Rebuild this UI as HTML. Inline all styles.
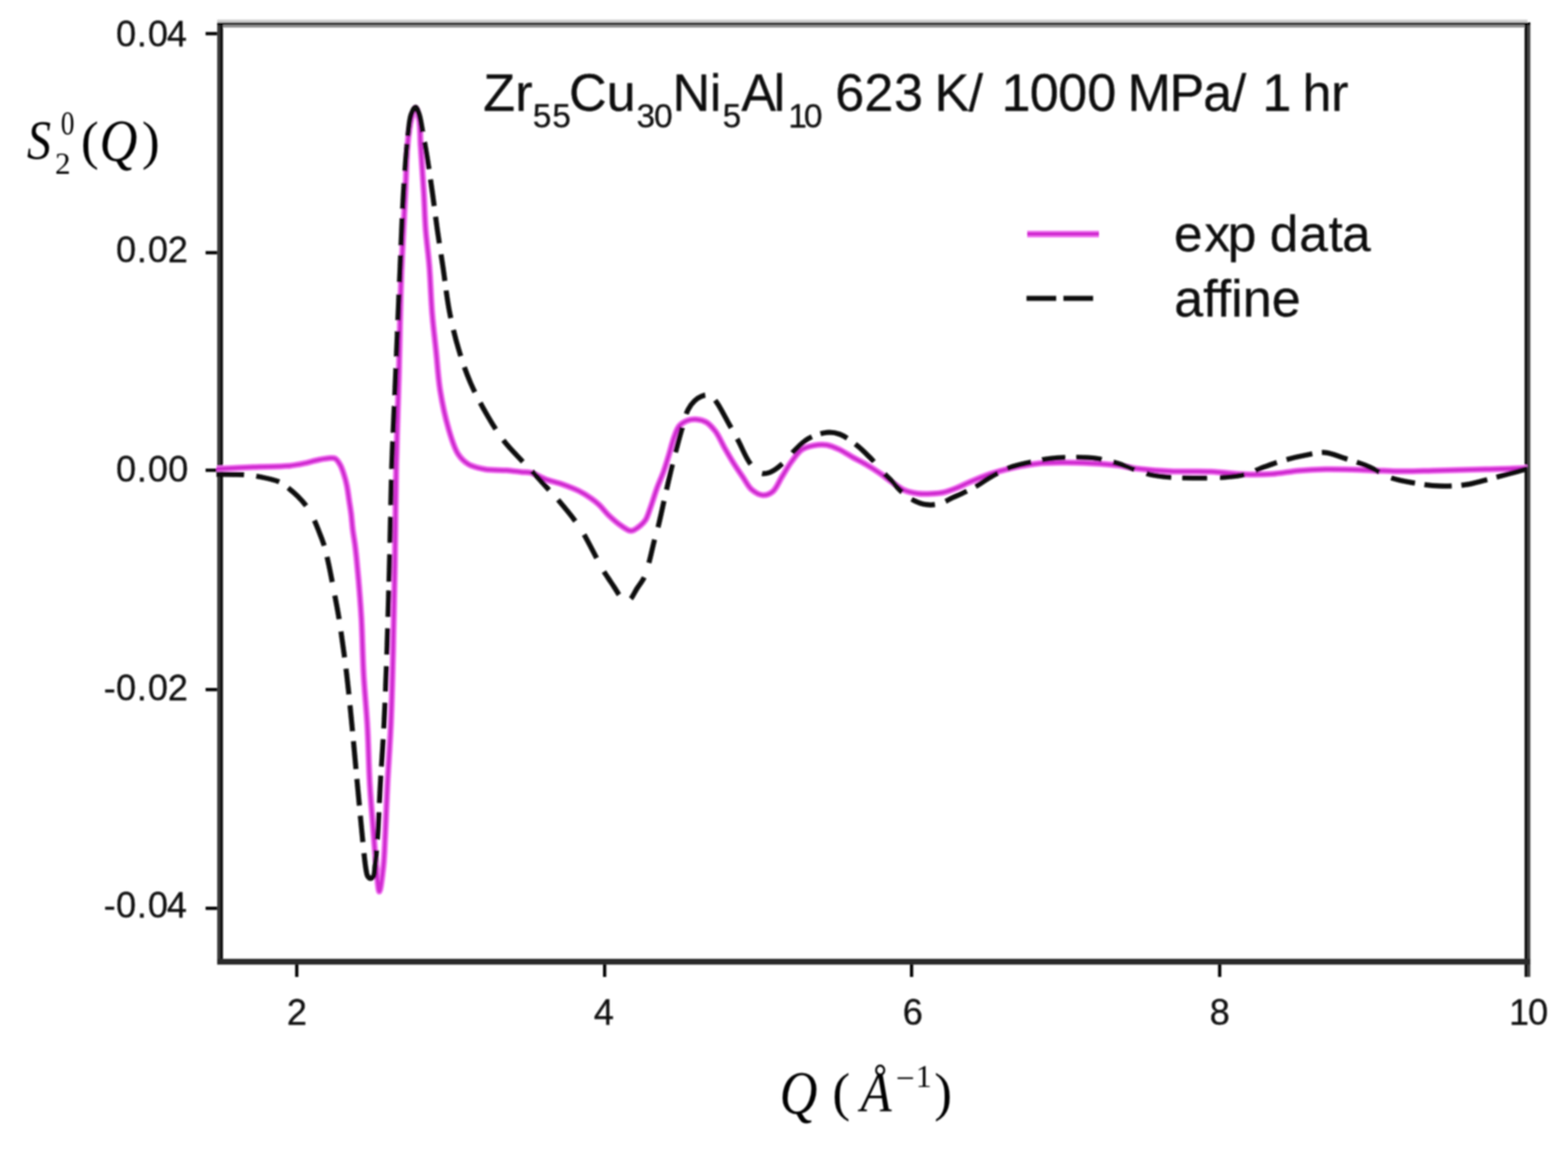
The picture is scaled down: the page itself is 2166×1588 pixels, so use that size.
<!DOCTYPE html>
<html><head><meta charset="utf-8"><title>S2(Q) plot</title>
<style>html,body{margin:0;padding:0;background:#fff;overflow:hidden;}svg{display:block;}.n{font-family:"Liberation Sans",Arial,sans-serif;fill:#0a0a0a;stroke:#0a0a0a;stroke-width:0.3px;}.m{font-family:"Liberation Serif","Times New Roman",serif;font-style:italic;fill:#000;}</style></head><body>
<svg width="2166" height="1588" viewBox="0 0 2166 1588">
<rect x="0" y="0" width="2166" height="1588" fill="#fff"/>
<defs><filter id="soft" x="0" y="0" width="2166" height="1588" filterUnits="userSpaceOnUse"><feGaussianBlur stdDeviation="1.20"/></filter></defs>
<g filter="url(#soft)">
<g fill="none" stroke-linecap="butt">
<rect x="300" y="31" width="4" height="1301" fill="#3a3a3a"/>
<rect x="304" y="31" width="4" height="1301" fill="#111"/>
<rect x="2106" y="31" width="4" height="1318" fill="#111"/>
<rect x="2110" y="31" width="4" height="1318" fill="#444"/>
<rect x="300" y="27" width="1810" height="4" fill="#d0d0d0"/>
<rect x="300" y="31" width="1814" height="3.5" fill="#050505"/>
<rect x="308" y="34.5" width="1798" height="3.5" fill="#8c8c8c"/>
<rect x="300" y="1324" width="1814" height="8" fill="#2a2a2a"/>
</g>
<rect x="284" y="44.2" width="16" height="4.5" fill="#000"/>
<rect x="284" y="346.7" width="16" height="4.5" fill="#000"/>
<rect x="284" y="647.1" width="16" height="4.5" fill="#000"/>
<rect x="284" y="950.0" width="16" height="4.5" fill="#000"/>
<rect x="284" y="1252.0" width="16" height="4.5" fill="#000"/>
<rect x="407.7" y="1332" width="4.5" height="17" fill="#000"/>
<rect x="833.0" y="1332" width="4.5" height="17" fill="#000"/>
<rect x="1257.0" y="1332" width="4.5" height="17" fill="#000"/>
<rect x="1682.6" y="1332" width="4.5" height="17" fill="#000"/>
<text class="n" font-size="50" y="63.5" x="160.3 188.9 204.2 230.4">0.04</text>
<text class="n" font-size="50" y="362.3" x="160.3 188.9 204.2 231.7">0.02</text>
<text class="n" font-size="50" y="665.2" x="160.3 188.9 204.2 232.2">0.00</text>
<text class="n" font-size="50" y="967.2" x="143.3 160.3 188.9 204.2 231.7">-0.02</text>
<text class="n" font-size="50" y="1266.5" x="143.3 160.3 188.9 204.2 230.4">-0.04</text>
<text class="n" font-size="50" y="1414.5" x="396.3">2</text>
<text class="n" font-size="50" y="1414.5" x="820.2">4</text>
<text class="n" font-size="50" y="1414.5" x="1246.9">6</text>
<text class="n" font-size="50" y="1414.5" x="1671.1">8</text>
<text class="n" font-size="50" y="1414.5" x="2084.5 2110.8">10</text>
<defs><clipPath id="cp"><rect x="299" y="38" width="1811" height="1286"/></clipPath></defs>
<g clip-path="url(#cp)" fill="none" stroke-linejoin="round">
<path d="M299.0,647.5 C299.0,647.5 301.5,647.4 304.0,647.3 C311.6,646.9 334.3,645.6 350.0,644.9 C366.3,644.2 387.1,644.5 400.0,643.2 C408.2,642.4 413.4,641.3 420.0,639.9 C426.7,638.5 433.6,636.2 440.0,635.0 C445.9,633.9 452.8,632.7 457.0,632.6 C459.5,632.6 461.1,632.3 463.0,633.3 C465.6,634.7 468.1,638.8 470.1,642.2 C472.3,646.0 473.6,650.7 475.1,655.2 C476.7,660.0 478.0,664.9 479.1,670.4 C480.4,676.6 481.2,683.8 482.2,690.5 C483.2,697.2 484.4,703.9 485.2,710.6 C486.0,717.3 486.4,724.1 487.2,730.8 C488.0,737.5 489.3,744.2 490.2,750.9 C491.1,757.6 491.7,763.2 492.5,771.0 C493.6,781.9 494.9,796.5 496.0,810.0 C497.2,824.5 498.3,838.0 499.3,855.0 C500.5,877.0 500.9,906.0 502.3,931.0 C503.7,955.3 506.1,978.4 507.5,1003.0 C509.0,1028.7 509.3,1057.0 510.8,1082.0 C512.1,1104.7 514.1,1126.8 515.7,1147.0 C517.1,1164.6 518.3,1181.5 519.8,1196.5 C521.1,1209.0 522.4,1231.0 524.0,1231.0 C525.6,1231.0 528.2,1208.9 529.6,1196.5 C531.2,1182.2 531.4,1167.0 532.3,1150.0 C533.3,1129.5 534.1,1105.7 535.3,1082.0 C536.6,1055.9 538.7,1028.7 540.0,1000.0 C541.4,968.3 542.1,934.9 543.0,900.0 C544.0,861.8 544.8,821.2 545.5,780.0 C546.2,736.2 546.4,688.6 547.3,644.5 C548.2,602.4 549.8,563.5 550.9,521.0 C552.1,475.6 552.8,424.5 554.4,380.0 C555.9,340.0 558.4,298.8 560.0,266.0 C561.2,241.0 561.3,218.5 563.0,200.0 C564.3,186.5 565.6,174.3 568.0,165.0 C569.7,158.5 572.2,148.9 574.0,149.0 C575.8,149.1 577.8,158.5 579.0,165.0 C580.7,174.3 580.2,186.5 581.0,200.0 C582.1,218.5 584.2,245.4 585.4,266.0 C586.5,284.1 586.7,300.0 588.0,317.0 C589.3,334.0 591.7,350.0 593.1,368.0 C594.7,388.3 595.3,412.5 597.0,433.0 C598.5,451.6 600.7,468.3 602.5,486.0 C604.3,503.7 605.2,521.4 608.0,539.0 C610.9,556.7 615.0,576.3 619.6,592.0 C623.5,605.0 627.2,618.4 632.8,627.0 C636.9,633.3 641.2,637.5 647.0,641.0 C653.4,644.8 661.6,646.6 669.9,648.0 C679.2,649.6 691.0,648.8 700.0,649.5 C707.4,650.1 714.0,651.1 720.0,651.7 C725.0,652.2 728.7,651.6 733.6,652.9 C739.8,654.5 746.9,659.3 754.0,661.9 C761.3,664.6 769.2,666.1 776.7,668.7 C784.3,671.4 792.4,674.4 799.3,677.8 C805.5,680.9 811.3,684.5 816.3,688.0 C820.6,691.0 823.9,693.6 827.6,697.1 C831.8,701.0 835.3,706.2 840.0,710.7 C845.4,715.9 852.6,722.3 858.5,726.2 C863.2,729.3 867.7,733.1 872.0,733.0 C876.1,732.9 880.6,728.9 884.0,726.2 C887.1,723.8 889.5,721.5 891.8,717.9 C894.7,713.3 896.4,706.7 898.8,700.2 C901.7,692.3 904.5,682.2 907.6,673.8 C910.4,666.1 913.8,659.1 916.5,651.7 C919.1,644.4 921.1,637.4 923.5,629.7 C926.1,621.3 928.5,610.7 931.4,603.2 C933.6,597.3 935.1,591.8 938.5,588.0 C941.6,584.5 946.2,582.0 950.4,580.5 C954.4,579.1 958.8,578.8 963.0,579.2 C967.2,579.6 971.7,580.7 975.6,583.0 C980.2,585.7 984.3,590.5 988.2,595.6 C992.9,601.8 996.6,610.8 1000.8,618.2 C1005.0,625.5 1009.1,632.7 1013.4,639.6 C1017.5,646.2 1021.8,652.3 1026.0,658.5 C1030.1,664.5 1033.5,671.9 1038.5,676.2 C1042.9,680.0 1048.7,683.4 1053.7,683.7 C1058.4,684.0 1063.5,682.0 1067.5,678.7 C1072.6,674.5 1075.9,665.2 1080.1,658.5 C1084.3,651.8 1088.1,644.7 1092.7,638.4 C1097.3,632.2 1102.1,624.7 1107.8,620.8 C1112.7,617.5 1118.4,616.3 1124.0,615.2 C1129.8,614.1 1136.1,613.6 1142.0,614.5 C1148.1,615.4 1154.1,618.3 1160.0,621.0 C1166.1,623.9 1172.0,628.1 1178.0,631.5 C1184.0,634.8 1190.1,637.7 1196.0,641.2 C1202.1,644.7 1208.1,648.5 1214.0,652.5 C1220.1,656.6 1225.9,661.4 1232.0,665.6 C1237.9,669.7 1243.8,674.5 1250.0,677.2 C1255.8,679.7 1262.0,680.7 1268.0,681.5 C1274.0,682.3 1280.0,682.1 1286.0,681.8 C1292.0,681.5 1298.1,681.1 1304.0,679.8 C1310.1,678.4 1316.1,676.0 1322.0,673.6 C1328.1,671.2 1333.3,668.3 1340.0,665.5 C1348.2,662.0 1358.4,657.7 1367.7,654.6 C1376.9,651.5 1385.4,649.1 1395.4,646.8 C1406.8,644.2 1419.9,641.5 1432.3,640.2 C1444.6,638.9 1457.0,638.9 1469.3,638.8 C1481.6,638.7 1493.9,639.1 1506.2,639.7 C1518.5,640.3 1531.7,641.1 1543.1,642.5 C1553.0,643.7 1560.4,645.8 1570.8,647.1 C1584.2,648.7 1600.9,650.1 1617.0,650.8 C1634.6,651.6 1654.6,650.5 1672.4,651.3 C1688.9,652.0 1705.1,654.5 1720.0,655.0 C1733.1,655.4 1744.7,655.3 1757.0,654.5 C1769.3,653.7 1781.6,651.0 1793.9,649.9 C1806.2,648.8 1818.5,648.2 1830.8,648.0 C1843.1,647.8 1855.4,648.1 1867.7,648.4 C1880.0,648.7 1892.4,649.5 1904.7,649.9 C1917.0,650.3 1929.3,650.8 1941.6,650.8 C1953.9,650.8 1966.2,650.2 1978.5,649.9 C1990.8,649.6 2003.2,649.2 2015.5,648.9 C2027.8,648.6 2040.1,648.3 2052.4,648.0 C2064.7,647.7 2078.8,647.5 2089.3,647.1 C2097.2,646.8 2110.0,646.2 2110.0,646.2" stroke="#f47cf4" stroke-width="9"/>
<path d="M299.0,647.5 C299.0,647.5 301.5,647.4 304.0,647.3 C311.6,646.9 334.3,645.6 350.0,644.9 C366.3,644.2 387.1,644.5 400.0,643.2 C408.2,642.4 413.4,641.3 420.0,639.9 C426.7,638.5 433.6,636.2 440.0,635.0 C445.9,633.9 452.8,632.7 457.0,632.6 C459.5,632.6 461.1,632.3 463.0,633.3 C465.6,634.7 468.1,638.8 470.1,642.2 C472.3,646.0 473.6,650.7 475.1,655.2 C476.7,660.0 478.0,664.9 479.1,670.4 C480.4,676.6 481.2,683.8 482.2,690.5 C483.2,697.2 484.4,703.9 485.2,710.6 C486.0,717.3 486.4,724.1 487.2,730.8 C488.0,737.5 489.3,744.2 490.2,750.9 C491.1,757.6 491.7,763.2 492.5,771.0 C493.6,781.9 494.9,796.5 496.0,810.0 C497.2,824.5 498.3,838.0 499.3,855.0 C500.5,877.0 500.9,906.0 502.3,931.0 C503.7,955.3 506.1,978.4 507.5,1003.0 C509.0,1028.7 509.3,1057.0 510.8,1082.0 C512.1,1104.7 514.1,1126.8 515.7,1147.0 C517.1,1164.6 518.3,1181.5 519.8,1196.5 C521.1,1209.0 522.4,1231.0 524.0,1231.0 C525.6,1231.0 528.2,1208.9 529.6,1196.5 C531.2,1182.2 531.4,1167.0 532.3,1150.0 C533.3,1129.5 534.1,1105.7 535.3,1082.0 C536.6,1055.9 538.7,1028.7 540.0,1000.0 C541.4,968.3 542.1,934.9 543.0,900.0 C544.0,861.8 544.8,821.2 545.5,780.0 C546.2,736.2 546.4,688.6 547.3,644.5 C548.2,602.4 549.8,563.5 550.9,521.0 C552.1,475.6 552.8,424.5 554.4,380.0 C555.9,340.0 558.4,298.8 560.0,266.0 C561.2,241.0 561.3,218.5 563.0,200.0 C564.3,186.5 565.6,174.3 568.0,165.0 C569.7,158.5 572.2,148.9 574.0,149.0 C575.8,149.1 577.8,158.5 579.0,165.0 C580.7,174.3 580.2,186.5 581.0,200.0 C582.1,218.5 584.2,245.4 585.4,266.0 C586.5,284.1 586.7,300.0 588.0,317.0 C589.3,334.0 591.7,350.0 593.1,368.0 C594.7,388.3 595.3,412.5 597.0,433.0 C598.5,451.6 600.7,468.3 602.5,486.0 C604.3,503.7 605.2,521.4 608.0,539.0 C610.9,556.7 615.0,576.3 619.6,592.0 C623.5,605.0 627.2,618.4 632.8,627.0 C636.9,633.3 641.2,637.5 647.0,641.0 C653.4,644.8 661.6,646.6 669.9,648.0 C679.2,649.6 691.0,648.8 700.0,649.5 C707.4,650.1 714.0,651.1 720.0,651.7 C725.0,652.2 728.7,651.6 733.6,652.9 C739.8,654.5 746.9,659.3 754.0,661.9 C761.3,664.6 769.2,666.1 776.7,668.7 C784.3,671.4 792.4,674.4 799.3,677.8 C805.5,680.9 811.3,684.5 816.3,688.0 C820.6,691.0 823.9,693.6 827.6,697.1 C831.8,701.0 835.3,706.2 840.0,710.7 C845.4,715.9 852.6,722.3 858.5,726.2 C863.2,729.3 867.7,733.1 872.0,733.0 C876.1,732.9 880.6,728.9 884.0,726.2 C887.1,723.8 889.5,721.5 891.8,717.9 C894.7,713.3 896.4,706.7 898.8,700.2 C901.7,692.3 904.5,682.2 907.6,673.8 C910.4,666.1 913.8,659.1 916.5,651.7 C919.1,644.4 921.1,637.4 923.5,629.7 C926.1,621.3 928.5,610.7 931.4,603.2 C933.6,597.3 935.1,591.8 938.5,588.0 C941.6,584.5 946.2,582.0 950.4,580.5 C954.4,579.1 958.8,578.8 963.0,579.2 C967.2,579.6 971.7,580.7 975.6,583.0 C980.2,585.7 984.3,590.5 988.2,595.6 C992.9,601.8 996.6,610.8 1000.8,618.2 C1005.0,625.5 1009.1,632.7 1013.4,639.6 C1017.5,646.2 1021.8,652.3 1026.0,658.5 C1030.1,664.5 1033.5,671.9 1038.5,676.2 C1042.9,680.0 1048.7,683.4 1053.7,683.7 C1058.4,684.0 1063.5,682.0 1067.5,678.7 C1072.6,674.5 1075.9,665.2 1080.1,658.5 C1084.3,651.8 1088.1,644.7 1092.7,638.4 C1097.3,632.2 1102.1,624.7 1107.8,620.8 C1112.7,617.5 1118.4,616.3 1124.0,615.2 C1129.8,614.1 1136.1,613.6 1142.0,614.5 C1148.1,615.4 1154.1,618.3 1160.0,621.0 C1166.1,623.9 1172.0,628.1 1178.0,631.5 C1184.0,634.8 1190.1,637.7 1196.0,641.2 C1202.1,644.7 1208.1,648.5 1214.0,652.5 C1220.1,656.6 1225.9,661.4 1232.0,665.6 C1237.9,669.7 1243.8,674.5 1250.0,677.2 C1255.8,679.7 1262.0,680.7 1268.0,681.5 C1274.0,682.3 1280.0,682.1 1286.0,681.8 C1292.0,681.5 1298.1,681.1 1304.0,679.8 C1310.1,678.4 1316.1,676.0 1322.0,673.6 C1328.1,671.2 1333.3,668.3 1340.0,665.5 C1348.2,662.0 1358.4,657.7 1367.7,654.6 C1376.9,651.5 1385.4,649.1 1395.4,646.8 C1406.8,644.2 1419.9,641.5 1432.3,640.2 C1444.6,638.9 1457.0,638.9 1469.3,638.8 C1481.6,638.7 1493.9,639.1 1506.2,639.7 C1518.5,640.3 1531.7,641.1 1543.1,642.5 C1553.0,643.7 1560.4,645.8 1570.8,647.1 C1584.2,648.7 1600.9,650.1 1617.0,650.8 C1634.6,651.6 1654.6,650.5 1672.4,651.3 C1688.9,652.0 1705.1,654.5 1720.0,655.0 C1733.1,655.4 1744.7,655.3 1757.0,654.5 C1769.3,653.7 1781.6,651.0 1793.9,649.9 C1806.2,648.8 1818.5,648.2 1830.8,648.0 C1843.1,647.8 1855.4,648.1 1867.7,648.4 C1880.0,648.7 1892.4,649.5 1904.7,649.9 C1917.0,650.3 1929.3,650.8 1941.6,650.8 C1953.9,650.8 1966.2,650.2 1978.5,649.9 C1990.8,649.6 2003.2,649.2 2015.5,648.9 C2027.8,648.6 2040.1,648.3 2052.4,648.0 C2064.7,647.7 2078.8,647.5 2089.3,647.1 C2097.2,646.8 2110.0,646.2 2110.0,646.2" stroke="#d02cd0" stroke-width="5"/>
<path d="M299.0,654.9 C299.0,654.9 301.6,654.9 304.0,654.9 C310.3,655.0 328.9,654.9 338.0,655.5 C344.1,655.9 347.2,656.3 353.2,657.4 C362.2,659.1 378.7,662.1 386.5,665.7 C391.4,667.9 393.6,670.3 397.3,673.2 C401.7,676.6 406.6,680.7 411.0,685.0 C415.6,689.6 420.2,694.6 424.0,700.0 C427.9,705.5 431.1,712.0 434.0,718.0 C436.7,723.7 438.7,729.2 441.0,735.0 C443.4,741.1 445.9,747.2 448.0,754.0 C450.3,761.7 452.1,770.6 454.0,779.0 C455.9,787.6 457.5,796.4 459.2,805.0 C460.8,813.4 462.4,821.6 464.0,830.0 C465.6,838.6 466.9,845.1 468.6,856.0 C471.5,874.5 475.9,906.2 478.9,931.0 C481.8,955.2 483.9,978.4 486.3,1003.0 C488.8,1028.7 491.2,1056.7 493.6,1082.0 C495.8,1105.5 498.2,1131.9 500.0,1150.0 C501.2,1162.0 502.0,1171.0 503.0,1180.0 C503.8,1187.3 504.5,1194.5 505.5,1200.0 C506.2,1203.9 506.5,1207.8 508.0,1210.0 C509.0,1211.5 510.7,1213.0 512.0,1213.0 C513.3,1213.0 515.0,1211.6 516.0,1210.0 C517.6,1207.3 517.4,1201.9 518.0,1197.0 C518.8,1190.6 519.4,1182.6 520.0,1175.0 C520.7,1166.9 521.3,1160.4 522.0,1150.0 C523.1,1132.9 524.2,1105.7 525.5,1082.0 C527.0,1055.9 529.1,1028.7 530.5,1000.0 C532.1,968.3 533.3,934.9 534.5,900.0 C535.8,861.8 536.9,820.8 538.0,780.0 C539.1,737.5 540.1,680.9 541.0,650.0 C541.5,632.8 541.9,626.0 542.5,610.0 C543.5,586.2 545.0,554.3 546.4,521.0 C548.2,478.3 550.5,420.1 552.5,375.0 C554.2,336.0 555.3,300.1 557.4,266.0 C559.3,235.9 561.8,200.4 564.2,181.0 C565.4,170.9 565.8,163.9 568.0,158.0 C569.5,153.8 572.2,147.9 574.0,148.0 C575.8,148.1 577.6,153.9 579.0,158.0 C581.1,164.0 582.1,172.6 583.7,181.0 C585.6,191.2 587.7,202.5 589.7,215.0 C592.2,230.3 594.9,249.0 597.3,266.0 C599.7,283.0 601.7,300.0 604.1,317.0 C606.5,334.0 609.1,350.0 611.8,368.0 C614.8,388.3 617.3,412.5 621.4,432.9 C625.1,451.5 629.5,469.1 634.6,485.8 C639.3,501.3 644.2,515.4 650.5,529.9 C657.0,544.8 665.4,560.2 673.4,573.9 C680.7,586.5 688.1,598.5 696.3,609.2 C704.0,619.1 713.9,628.7 720.8,636.1 C725.7,641.4 728.7,644.2 733.6,649.5 C740.6,656.9 751.8,669.4 758.5,676.7 C763.0,681.6 765.5,684.0 769.9,689.1 C776.7,697.0 788.3,710.9 794.8,719.7 C799.5,726.1 802.1,729.9 806.1,736.7 C811.6,746.0 819.2,761.3 824.2,770.7 C827.7,777.3 830.4,782.8 833.3,787.7 C835.6,791.6 837.7,794.4 840.0,798.0 C842.5,801.9 845.4,806.0 848.0,810.0 C850.5,813.8 852.9,818.1 855.1,821.3 C856.8,823.7 858.2,826.0 860.0,827.5 C861.5,828.7 863.3,829.9 865.0,830.0 C866.7,830.1 868.4,829.5 870.2,828.1 C873.4,825.5 876.7,817.7 880.0,812.5 C883.3,807.3 887.3,802.6 889.9,797.1 C892.6,791.5 893.9,786.0 895.9,779.0 C898.6,769.5 901.7,754.4 904.2,745.0 C906.0,738.3 907.2,735.0 909.0,728.0 C911.8,717.1 915.3,700.1 918.5,686.0 C921.8,671.7 925.2,656.4 928.5,643.0 C931.4,631.3 934.6,619.0 937.0,610.0 C938.7,603.7 939.7,600.1 941.5,594.0 C943.9,585.9 946.7,573.0 950.4,565.8 C953.1,560.6 956.1,556.7 959.5,553.5 C962.4,550.8 965.8,548.6 969.0,547.3 C971.7,546.2 974.4,545.5 977.0,545.8 C979.6,546.1 982.3,547.3 984.5,549.0 C987.0,550.9 988.5,553.4 991.0,557.0 C995.4,563.5 1002.0,576.5 1007.0,585.5 C1011.5,593.5 1015.2,600.0 1019.6,608.2 C1024.8,617.8 1029.9,631.6 1036.0,639.6 C1040.7,645.7 1045.9,651.8 1051.1,653.5 C1055.2,654.9 1059.5,653.7 1063.7,652.2 C1068.7,650.4 1073.9,646.4 1078.8,642.2 C1084.5,637.4 1089.3,630.3 1095.2,624.5 C1101.6,618.2 1108.2,610.6 1116.0,606.0 C1123.8,601.5 1134.0,598.0 1142.0,597.2 C1148.5,596.6 1153.8,597.3 1160.0,599.6 C1167.7,602.5 1176.8,609.6 1184.0,615.2 C1190.7,620.4 1196.1,626.0 1202.0,632.0 C1208.2,638.3 1214.5,646.6 1220.0,652.4 C1224.3,657.0 1228.0,660.3 1232.0,664.4 C1236.1,668.6 1239.4,673.4 1244.0,677.6 C1249.2,682.3 1255.7,687.6 1262.0,690.8 C1267.8,693.8 1273.9,696.0 1280.0,696.8 C1285.9,697.6 1292.1,697.1 1298.0,695.6 C1304.2,694.0 1310.0,690.0 1316.0,687.2 C1322.0,684.4 1328.0,681.8 1334.0,678.8 C1340.0,675.8 1346.3,672.6 1352.0,669.2 C1357.5,666.0 1361.6,662.5 1367.7,659.1 C1375.5,654.7 1386.0,649.0 1395.4,645.5 C1404.5,642.1 1413.8,640.4 1423.1,638.3 C1432.3,636.3 1440.9,634.4 1450.8,633.2 C1462.2,631.9 1476.3,631.3 1487.7,631.4 C1497.6,631.5 1506.2,631.8 1515.4,633.2 C1524.7,634.6 1534.9,637.3 1543.1,639.7 C1549.9,641.7 1554.8,643.9 1561.6,646.2 C1569.9,649.0 1580.0,653.2 1589.3,655.4 C1598.4,657.5 1607.1,658.3 1617.0,659.1 C1628.4,660.0 1641.6,660.0 1653.9,660.0 C1666.2,660.0 1679.4,660.0 1690.9,659.1 C1700.9,658.3 1709.7,657.8 1719.0,655.4 C1728.7,652.9 1738.2,647.7 1747.7,644.3 C1757.0,641.0 1766.1,637.7 1775.4,635.1 C1784.6,632.5 1793.8,630.3 1803.1,628.6 C1812.3,626.9 1821.6,624.2 1830.8,624.9 C1840.1,625.6 1849.3,630.3 1858.5,633.2 C1867.8,636.1 1877.9,639.2 1886.2,642.5 C1893.2,645.3 1898.8,648.5 1905.0,651.5 C1911.1,654.4 1916.3,657.8 1923.1,660.2 C1931.2,663.0 1940.9,664.8 1950.8,666.5 C1962.2,668.5 1975.5,670.6 1987.8,671.1 C2000.1,671.6 2013.3,670.9 2024.7,669.3 C2034.7,667.9 2043.2,665.1 2052.4,662.8 C2061.7,660.5 2071.2,657.8 2080.1,655.4 C2088.4,653.2 2098.8,650.5 2104.1,648.9 C2106.7,648.1 2110.0,647.0 2110.0,647.0" stroke="#0a0a0a" stroke-width="7" stroke-dasharray="0.0 0.0 38.0 17.3 32.4 15.2 35.0 23.3 37.4 16.0 35.4 19.0 33.3 17.0 36.2 15.5 35.9 15.2 36.1 13.9 38.1 13.8 37.1 13.8 36.8 15.3 79.0 14.9 37.8 12.8 37.9 12.7 37.8 14.7 35.8 15.2 35.2 15.8 36.3 15.9 36.4 12.2 37.9 15.8 35.8 15.9 35.4 14.7 38.4 12.0 36.9 14.7 37.5 16.0 35.2 14.8 36.0 16.6 37.4 13.3 38.0 12.6 36.1 16.2 37.9 10.7 78.5 14.0 38.0 14.3 37.1 14.9 37.2 15.6 36.9 13.2 38.6 16.8 37.5 16.1 37.6 16.3 42.3 18.5 39.9 18.5 34.9 18.8 37.5 22.4 36.5 21.3 38.1 21.3 34.8 21.1 33.0 17.6 37.2 16.1 35.8 17.1 35.9 19.2 38.5 16.2 43.7 17.7 39.5 20.7 32.3 20.2 35.3 12.5 38.9 13.5 35.7 22.2 35.4 16.0 33.7 15.5 32.6 13.6 36.0 14.3 34.3 15.4 32.2 15.1 35.5 16.1 31.7 16.9 34.9 15.2 34.3 17.6 34.2 16.2 31.6 14.1 36.4 13.3 36.8 13.5 34.2 18.2 33.8 13.1 37.7 13.2 36.8 13.1 45.2 101.0"/>
</g>
<rect x="1419" y="318.5" width="99" height="9.5" fill="#f47cf4"/>
<rect x="1419" y="320.5" width="99" height="5" fill="#d02cd0"/>
<rect x="1418" y="408.5" width="41" height="7" fill="#111"/>
<rect x="1469" y="408.5" width="41" height="7" fill="#111"/>
<text class="n" font-size="71" y="346.5" x="1621.7 1663.7 1695.9 1740.0 1754.0 1794.8 1835.2 1854.0">exp data</text>
<text class="n" x="1622" y="437" font-size="72">affine</text>
<text class="n" font-size="72" y="152.5" x="667.4 711.7">Zr</text>
<text class="n" font-size="46" y="176.0" x="735.9 763.0">55</text>
<text class="n" font-size="72" y="152.5" x="786.0 838.1">Cu</text>
<text class="n" font-size="46" y="176.0" x="879.2 903.4">30</text>
<text class="n" font-size="72" y="152.5" x="929.1 980.6">Ni</text>
<text class="n" font-size="46" y="176.0" x="998.2">5</text>
<text class="n" font-size="72" y="152.5" x="1024.1 1068.7">Al</text>
<text class="n" font-size="46" y="176.0" x="1089.1 1110.5">10</text>
<text class="n" font-size="72" y="152.5" x="1153.7 1193.9 1234.9">623</text>
<text class="n" font-size="72" y="152.5" x="1291.1 1338.0">K/</text>
<text class="n" font-size="72" y="152.5" x="1383.5 1422.4 1461.8 1501.9">1000</text>
<text class="n" font-size="72" y="152.5" x="1557.6 1615.4 1662.1 1701.5">MPa/</text>
<text class="n" font-size="72" y="152.5" x="1743.8">1</text>
<text class="n" font-size="72" y="152.5" x="1799.2 1838.8">hr</text>
<text class="m" font-size="76" x="42.5" y="219.5" transform="scale(0.875,1)">S</text>
<text class="m" font-size="46" x="102.5" y="186.5" style="font-style:normal" transform="scale(0.820,1)">0</text>
<text class="m" font-size="43" x="76.1" y="240.0" style="font-style:normal">2</text>
<text class="m" font-size="74" x="111.7" y="219.4" style="font-style:normal">(</text>
<text class="m" font-size="83" x="157.3" y="222.4" transform="scale(0.874,1)">Q</text>
<text class="m" font-size="74" x="196.1" y="219.4" style="font-style:normal">)</text>
<text class="m" font-size="84" x="1252.3" y="1537.6" transform="scale(0.860,1)">Q</text>
<text class="m" font-size="74" x="1149.7" y="1533.4" style="font-style:normal">(</text>
<text class="m" font-size="79" x="1335.8" y="1534.0" transform="scale(0.890,1)">Å</text>
<text class="m" font-size="46" x="1237.7" y="1503.5" style="font-style:normal">−</text>
<text class="m" font-size="44" x="1265.1" y="1501.0" style="font-style:normal">1</text>
<text class="m" font-size="74" x="1290.6" y="1533.4" style="font-style:normal">)</text>
</g>
</svg></body></html>
